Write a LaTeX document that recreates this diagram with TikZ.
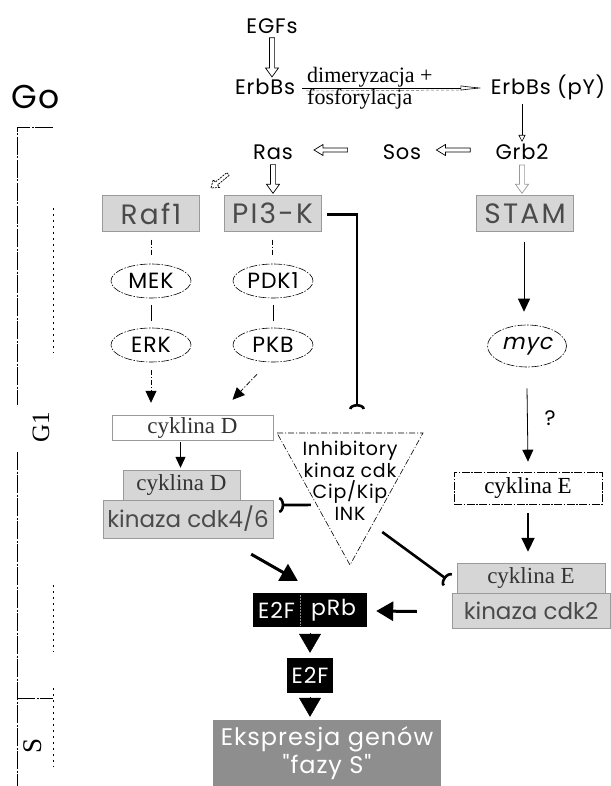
\documentclass[tikz,border=0pt]{standalone}
\usepackage{fontspec}
\setmainfont{Liberation Serif}
\newfontfamily\gothic[LetterSpace=4]{Poppins}
\newfontfamily\gothicn{Poppins}
\newfontfamily\gothicw[LetterSpace=8]{Poppins}
\newfontfamily\gothicsl[FakeSlant=0.22,LetterSpace=4]{Poppins}
\usetikzlibrary{arrows.meta,calc,shapes.geometric}
\definecolor{boxfill}{HTML}{D6D6D6}
\definecolor{boxline}{HTML}{9A9A9A}
\definecolor{boxtext}{HTML}{4A4A4A}
\definecolor{darkfill}{HTML}{8E8E8E}
% hollow block arrow: [opts]{start}{end}{shaft half width}{head half width}{head length}
\newcommand\harrow[6][]{%
  \coordinate (hS) at (#2);
  \coordinate (hT) at (#3);
  \coordinate (hH) at ($(hT)!#6!(hS)$);
  \draw[line width=0.7pt,#1] ($(hS)!#4!90:(hT)$) -- ($(hH)!#4!-90:(hS)$) -- ($(hH)!#5!-90:(hS)$) -- (hT)
     -- ($(hH)!#5!90:(hS)$) -- ($(hH)!#4!90:(hS)$) -- ($(hS)!#4!-90:(hT)$) -- cycle;
}
\begin{document}
\begin{tikzpicture}[x=1pt,y=-1pt,
  lab/.style={font=\gothic\fontsize{21}{23}\selectfont, inner sep=1pt},
  gbox/.style={draw=boxline, fill=boxfill, text=boxtext, font=\gothicw\fontsize{28}{28}\selectfont,
               minimum width=97pt, minimum height=36pt, inner sep=0pt},
  ell/.style={ellipse, draw, line width=0.6pt, dash pattern=on 8pt off 1.5pt on 1.5pt off 1.5pt,
              minimum width=80pt, minimum height=34pt, inner sep=0pt, font=\gothic\fontsize{22}{22}\selectfont},
  sbox/.style={draw=boxline, inner sep=0pt, text=black!80, font=\fontsize{23}{23}\selectfont},
  blk/.style={fill=black, text=white, inner sep=0pt, font=\gothic\fontsize{22}{22}\selectfont},
  conn/.style={line width=0.8pt},
  dconn/.style={line width=0.8pt, dash pattern=on 5pt off 2pt on 1pt off 2pt},
  inh/.style={line width=2.6pt, -{Arc Barb[reversed, width=16pt, length=5pt]}},
  thk/.style={line width=3pt, -{Triangle[width=19pt, length=17pt]}},
  brk/.style={line width=0.8pt, dash pattern=on 18pt off 1.5pt on 2pt off 1.5pt},
  dotl/.style={line width=0.8pt, dash pattern=on 2pt off 4pt}
]
\useasboundingbox (0,0) rectangle (610,786);

% ---- phase bar on the left
\node[font=\gothic\fontsize{33}{33}\selectfont, inner sep=0pt] (go) at (36,97) {Go};
\node[rotate=90, font=\fontsize{25}{25}\selectfont, inner sep=0pt] (g1) at (41,427) {G1};
\node[rotate=90, font=\fontsize{27}{27}\selectfont, inner sep=0pt] (sph) at (33,746) {S};
\draw[brk] (53,127) -- (17,127) -- (17,405);
\draw[brk] (17,452) -- (17,786);
\draw[brk] (17,698) -- (53,698);
\draw[dotl] (53,208) -- (53,353);
\draw[dotl] (53,585) -- (53,652);
\draw[dotl] (53,688) -- (53,767);

% ---- receptor part
\node[lab] (egf) at (272,26) {EGFs};
\node[lab] (erb) at (265,87) {ErbBs};
\node[lab] (erbp) at (548,87) {ErbBs (pY)};
\node[font=\fontsize{22}{22}\selectfont, anchor=west, inner sep=0pt] (dim) at (307,77) {dimeryzacja +};
\node[font=\fontsize{22}{22}\selectfont, anchor=west, inner sep=0pt] (fos) at (307,99) {fosforylacja};
\draw[line width=0.6pt, -{Latex[open, length=24pt, width=5pt]}] ($(erb.east)+(6,1)$) -- ($(erbp.west)+(-5,1)$);
\draw[line width=0.5pt, black!60, dash pattern=on 3pt off 2pt] ($(erb.east)+(10,4)$) -- ($(erbp.west)+(-28,3)$);
\harrow{$(egf.south)+(0,3)$}{$(egf.south |- erb.north)+(0,-1)$}{2.6pt}{6.5pt}{9pt}

\node[lab] (ras) at (273,152) {Ras};
\node[lab] (sos) at (402,152) {Sos};
\node[lab] (grb) at (522,152) {Grb2};
\draw[line width=0.6pt, -{Triangle[open, width=7pt, length=7pt]}] ($(erbp.south)+(-26,3)$) -- ($(grb.north)+(0,-1)$);
\harrow{$(sos.west)+(-34,-2)$}{$(ras.east)+(20,-2)$}{2pt}{5.5pt}{9pt}
\harrow{$(grb.west)+(-24,-2)$}{$(sos.east)+(14,-2)$}{2pt}{5.5pt}{9pt}

% ---- boxes
\node[gbox] (raf) at (151,213.5) {Raf1};
\node[gbox] (pik) at (272.5,213.5) {PI3-K};
\node[gbox] (stam) at (525,213.5) {STAM};
\harrow[dash pattern=on 2pt off 1pt]{$(ras.west)+(-24,22)$}{$(ras.west)+(-41,36)$}{1.8pt}{5pt}{7pt}
\harrow{$(ras.south)+(0,4)$}{$(pik.north)+(0.5,-2)$}{2.6pt}{6.5pt}{9pt}
\harrow[draw=black!40]{$(grb.south)+(0,4)$}{$(stam.north)+(-3,-2)$}{2.6pt}{6.5pt}{9pt}

% ---- kinase cascades
\node[ell] (mek) at (151,281) {MEK};
\node[ell] (erk) at (151,345) {ERK};
\node[ell] (pdk) at (273,281) {PDK1};
\node[ell] (pkb) at (273,345) {PKB};
\draw[dconn, shorten <=8pt, shorten >=9pt] (raf.south) -- (mek.north);
\draw[conn, shorten <=7pt, shorten >=7pt] (mek.south) -- (erk.north);
\draw[dconn, shorten <=8pt, shorten >=9pt] (pik.south) -- (pik.south |- pdk.north);
\draw[conn, shorten <=7pt, shorten >=7pt] (pdk.south) -- (pkb.north);

\node[sbox, fill=white, minimum width=161pt, minimum height=25pt] (cycd) at (192.5,427.5) {cyklina D};
\node[sbox, fill=boxfill, minimum width=117pt, minimum height=30pt] (cycdg) at (181.5,485) {cyklina D};
\node[gbox, minimum width=170pt, minimum height=38pt, font=\gothicn\fontsize{23}{23}\selectfont] (cdk46) at (188,519) {kinaza cdk4/6};

\draw[dconn, -{Triangle[width=11pt, length=12pt]}, shorten <=8pt, shorten >=12pt] (erk.south) -- (erk.south |- cycd.north);
\draw[dconn, -{Triangle[width=11pt, length=12pt]}] ($(pkb.south)+(-16,12)$) -- ($(cycd.north)+(40,-15)$);
\draw[line width=1.1pt, -{Triangle[width=10pt, length=11pt]}] ($(cycd.south)+(-12,2)$) -- ($(cycdg.north)+(-1,-2)$);

% ---- PI3-K inhibition
\coordinate (pk) at (357,409);
\draw[inh] ($(pik.east)+(6,1)$) -| (pk);

% ---- right column
\node[ell, minimum width=79pt, minimum height=42pt, font=\gothicsl\fontsize{22}{22}\selectfont] (myc) at (527,346) {myc};
\draw[conn, -{Triangle[width=12pt, length=13pt]}] ($(stam.south)+(-1,10)$) -- ($(myc.north)+(-3,-13)$);
\node[draw, line width=0.6pt, dash pattern=on 8pt off 1.5pt on 1.5pt off 1.5pt, minimum width=148pt, minimum height=32pt,
      inner sep=0pt, font=\fontsize{23}{23}\selectfont] (cyce) at (528,488) {cyklina E};
\draw[conn, -{Triangle[width=11pt, length=12pt]}] ($(myc.south)+(0,21)$) -- ($(cyce.north)+(0,-10)$);
\node[font=\gothic\fontsize{21}{21}\selectfont, inner sep=0pt] (qm) at (550,418) {?};
\node[sbox, fill=boxfill, minimum width=148pt, minimum height=30pt] (cyceg) at (531,578) {cyklina E};
\node[gbox, minimum width=158pt, minimum height=35pt, font=\gothicn\fontsize{23}{23}\selectfont] (cdk2) at (531,610.5) {kinaza cdk2};
\draw[line width=1.8pt, -{Triangle[width=13pt, length=14pt]}] ($(cyce.south)+(0,9)$) -- ($(cyceg.north)+(-3,-11)$);

% ---- inhibitors triangle
\coordinate (tl) at (277,433);
\coordinate (tr) at (423,433);
\coordinate (tb) at (350,565);
\draw[line width=0.6pt, dash pattern=on 6pt off 2pt on 1pt off 2pt] (tl) -- (tr) -- (tb) -- cycle;
\node[align=center, font=\gothic\fontsize{19}{21.5}\selectfont, inner sep=0pt] (inhib) at (350,481) {Inhibitory\\kinaz cdk\\Cip/Kip\\INK};
\draw[inh] ($(tl)!0.545!(tb)+(-6,0)$) -- ($(cdk46.east)+(6,-14)$);
\draw[inh] ($(tr)!0.75!(tb)+(14,0)$) -- ($(cyceg.west)+(-9,2)$);

% ---- E2F / pRb
\node[blk, minimum width=114pt, minimum height=34pt] (e2fprb) at (310,610) {};
\node[blk] (e2fa) at (276.5,610) {E2F};
\node[blk] (prb) at (333.5,610) {pRb};
\draw[black!45, line width=0.5pt, dash pattern=on 2pt off 1pt] ($(e2fprb.north west)+(47,2)$) -- ($(e2fprb.south west)+(47,-2)$);
\draw[thk] ($(cdk46.south east)+(-22,16)$) -- ($(e2fprb.north west)+(45,-12)$);
\draw[thk] ($(cdk2.west)+(-35,1)$) -- ($(e2fprb.east)+(9,1)$);

\node[blk, minimum width=46pt, minimum height=35pt] (e2f) at (310,675.5) {E2F};
\node[fill=darkfill, text=white, minimum width=228pt, minimum height=66pt, align=center,
      font=\gothic\fontsize{24}{28}\selectfont, inner sep=0pt] (eks) at (327,753) {Ekspresja genów\\"fazy S"};
\draw[-{Triangle[width=22pt, length=19pt]}, shorten <=6pt, shorten >=5pt] (e2fprb.south) -- (e2f.north);
\draw[-{Triangle[width=22pt, length=19pt]}, shorten <=4pt, shorten >=3pt] (e2f.south) -- (e2f.south |- eks.north);
\end{tikzpicture}
\end{document}
